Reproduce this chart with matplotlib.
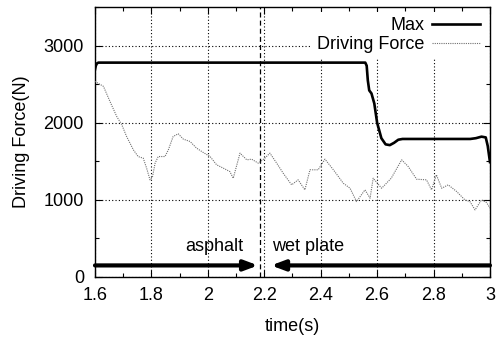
import matplotlib
matplotlib.use("Agg")
import matplotlib.pyplot as plt
from matplotlib.ticker import MultipleLocator

plt.rcParams['font.family'] = ['Liberation Sans', 'DejaVu Sans']

# Maximum available driving force
max_t = [1.600, 1.603, 1.607, 1.612, 1.620, 2.540, 2.558, 2.563, 2.567, 2.572,
         2.580, 2.590, 2.600, 2.615, 2.630, 2.645, 2.660, 2.675, 2.690, 2.720,
         2.930, 2.950, 2.970, 2.985, 2.992, 3.000]
max_f = [2690, 2740, 2770, 2780, 2780, 2780, 2780, 2740, 2550, 2420,
         2380, 2250, 2000, 1800, 1720, 1710, 1740, 1780, 1790, 1790,
         1790, 1800, 1820, 1810, 1700, 1490]

# Measured driving force
drv_t = [1.600, 1.630, 1.653, 1.677, 1.695, 1.712, 1.736, 1.753, 1.771, 1.783,
         1.795, 1.804, 1.813, 1.824, 1.848, 1.860, 1.877, 1.895, 1.913, 1.937,
         1.960, 1.984, 2.008, 2.031, 2.055, 2.078, 2.090, 2.114, 2.138, 2.155,
         2.179, 2.202, 2.220, 2.244, 2.267, 2.297, 2.320, 2.344, 2.362, 2.391,
         2.415, 2.445, 2.480, 2.504, 2.527, 2.557, 2.575, 2.586, 2.616, 2.650,
         2.687, 2.710, 2.740, 2.775, 2.793, 2.810, 2.829, 2.852, 2.882, 2.911,
         2.929, 2.947, 2.970, 2.988, 3.000]
drv_f = [2536, 2472, 2277, 2082, 1974, 1822, 1649, 1562, 1541, 1411,
         1260, 1303, 1476, 1562, 1562, 1649, 1822, 1857, 1788, 1757,
         1671, 1614, 1562, 1455, 1411, 1367, 1281, 1606, 1519, 1528,
         1476, 1541, 1606, 1476, 1346, 1195, 1260, 1130, 1390, 1390,
         1528, 1390, 1216, 1151, 978, 1130, 1022, 1281, 1151, 1281,
         1519, 1433, 1268, 1260, 1130, 1325, 1151, 1195, 1108, 1000,
         978, 870, 1000, 965, 892]

boundary_t = 2.185
arrow_level = 150
x_ticks = [1.6, 1.8, 2.0, 2.2, 2.4, 2.6, 2.8, 3.0]
x_tick_labels = ['1.6', '1.8', '2', '2.2', '2.4', '2.6', '2.8', '3']
y_ticks = [0, 1000, 2000, 3000]

FS = 13

fig = plt.figure(figsize=(5.01, 3.38), dpi=100)
ax = fig.add_axes([0.1896, 0.1805, 0.7884, 0.7985])

ax.plot(max_t, max_f, color='black', lw=1.9, label='Max', zorder=4)
ax.plot(drv_t, drv_f, color='#707070', lw=0.8, ls=(0, (1, 1)),
        label='Driving Force', zorder=3)

ax.axvline(boundary_t, color='black', lw=0.9, ls=(0, (4, 2.5)), zorder=2)

arrow_style = '-|>,head_length=0.8,head_width=0.3'
ax.annotate('', xy=(2.178, arrow_level), xytext=(1.6, arrow_level),
            arrowprops=dict(arrowstyle=arrow_style, lw=3, color='black',
                            shrinkA=0, shrinkB=0), zorder=5)
ax.annotate('', xy=(2.224, arrow_level), xytext=(3.0, arrow_level),
            arrowprops=dict(arrowstyle=arrow_style, lw=3, color='black',
                            shrinkA=0, shrinkB=0), zorder=5)
ax.text(2.125, 290, 'asphalt', ha='right', va='bottom', fontsize=FS)
ax.text(2.227, 290, 'wet plate', ha='left', va='bottom', fontsize=FS)

ax.set_xlim(1.6, 3.0)
ax.set_ylim(0, 3500)
ax.set_xticks(x_ticks)
ax.set_xticklabels(x_tick_labels)
ax.set_yticks(y_ticks)
ax.xaxis.set_minor_locator(MultipleLocator(0.1))
ax.yaxis.set_minor_locator(MultipleLocator(500))
ax.tick_params(which='both', direction='in', top=True, right=True,
               labelsize=FS, width=0.8)
ax.tick_params(axis='x', pad=7)
ax.tick_params(axis='y', pad=8)
ax.tick_params(which='major', length=5)
ax.tick_params(which='minor', length=3)
ax.grid(True, which='major', color='black', lw=0.8, ls=(0, (1, 2)))
for s in ax.spines.values():
    s.set_linewidth(1.0)

ax.set_xlabel('time(s)', fontsize=FS, labelpad=10)
ax.set_ylabel('Driving Force(N)', fontsize=FS, labelpad=10)

leg = ax.legend(loc='upper right', fontsize=FS, frameon=True, markerfirst=False,
                handlelength=2.65, handletextpad=0.45, borderaxespad=0.25,
                labelspacing=0.12, borderpad=0.3)
leg.get_frame().set_edgecolor('none')
leg.get_frame().set_facecolor('white')
leg.get_frame().set_alpha(1)
leg.get_frame().set_boxstyle('square', pad=0)
for t in leg.get_texts():
    t.set_ha('right')
leg.set_zorder(6)

fig.savefig('out.png', dpi=100)
